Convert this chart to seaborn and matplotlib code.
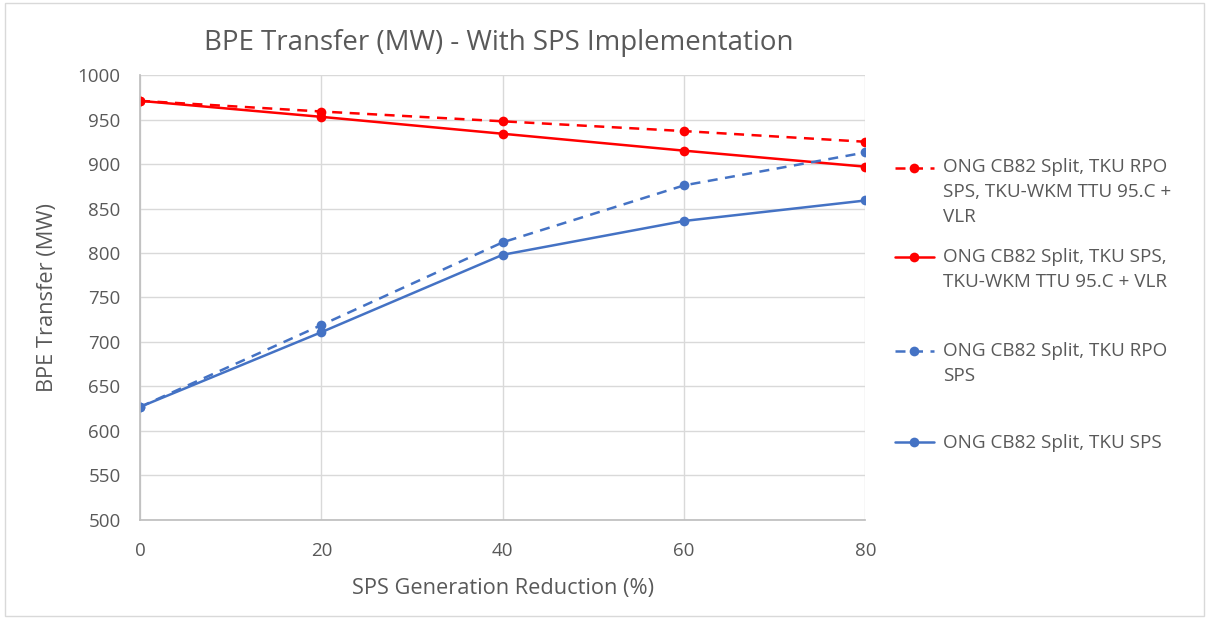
import seaborn as sns
import pandas as pd
import matplotlib.pyplot as plt

# DATA
reduction = [0, 20, 40, 60, 80]
red_dashed = [971, 959, 948, 937, 925]
red_solid = [971, 953, 934, 915, 897]
blue_dashed = [627, 719, 812, 876, 913]
blue_solid = [627, 711, 798, 836, 859]
labels = [
    "ONG CB82 Split, TKU RPO\nSPS, TKU-WKM TTU 95.C +\nVLR",
    "ONG CB82 Split, TKU SPS,\nTKU-WKM TTU 95.C + VLR",
    "ONG CB82 Split, TKU RPO\nSPS",
    "ONG CB82 Split, TKU SPS",
]

sns.set_theme(style="white")
plt.rcParams['font.family'] = ['Open Sans', 'DejaVu Sans']
grey = "#595959"

fig = plt.figure(figsize=(12.09, 6.19), dpi=100)
ax = fig.add_axes([0.1158, 0.16, 0.6, 0.7188])

# series: values, colour, dashed?
series = [
    (red_dashed, "#ff0000", True),
    (red_solid, "#ff0000", False),
    (blue_dashed, "#4472c4", True),
    (blue_solid, "#4472c4", False),
]
for (vals, col, dashed), lab in zip(series, labels):
    df = pd.DataFrame({"x": reduction, "y": vals})
    sns.lineplot(data=df, x="x", y="y", ax=ax, color=col, marker="o",
                 markersize=7, markeredgewidth=0, linewidth=1.8,
                 linestyle=(0, (4, 3)) if dashed else "-", label=lab)

ax.set_xlim(0, 80)
ax.set_ylim(500, 1000)
ax.set_xticks(reduction)
ax.set_yticks(range(500, 1001, 50))
ax.grid(True, color="#d9d9d9", linewidth=1)
for s in ["top", "right"]:
    ax.spines[s].set_visible(False)
for s in ["left", "bottom"]:
    ax.spines[s].set_color("#bfbfbf")
ax.tick_params(colors=grey, labelsize=13.5, length=0)
ax.tick_params(axis="y", pad=14)
ax.tick_params(axis="x", pad=16)
ax.set_xlabel("SPS Generation Reduction (%)", color=grey, fontsize=15.7, labelpad=13)
ax.set_ylabel("BPE Transfer (MW)", color=grey, fontsize=15.7, labelpad=14)
fig.text(0.4127, 0.93, "BPE Transfer (MW) - With SPS Implementation",
         ha="center", va="center", color=grey, fontsize=19.9)

# legend: one per entry so the marker sits on the first text line
h, l = ax.get_legend_handles_labels()
ax.get_legend().remove()
legend_y = [0.730, 0.585, 0.433, 0.284]
for handle, lab, y in zip(h, l, legend_y):
    n = lab.count("\n")
    leg = fig.legend([handle], ["\n" * n + lab], loc="center left",
                     bbox_to_anchor=(0.740, y), frameon=False, fontsize=13.6,
                     handlelength=2.1, handletextpad=0.45,
                     borderpad=0, borderaxespad=0)
    for t in leg.get_texts():
        t.set_color(grey)
        t.set_linespacing(1.5)

# chart frame
fig.patches.append(plt.Rectangle((0.004, 0.005), 0.992, 0.99, transform=fig.transFigure,
                                 fill=False, edgecolor="#d9d9d9", linewidth=1))

fig.savefig("out.png", dpi=100)
